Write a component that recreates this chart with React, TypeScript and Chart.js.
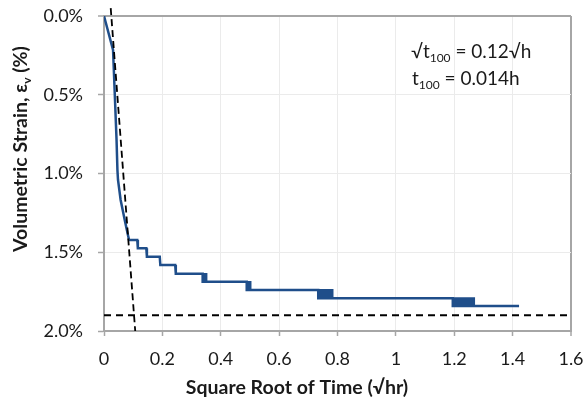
import React, { useEffect, useRef } from "react";
import { Chart, registerables } from "chart.js";

Chart.register(...registerables);

// [square root of time (√hr), volumetric strain (%)]
const STRAIN_POINTS: [number, number][] = [
  [0, 0], [0.031, 0.216], [0.037, 0.5], [0.043, 0.787], [0.046, 0.978], [0.048, 1.041],
  [0.057, 1.168], [0.071, 1.295], [0.082, 1.39], [0.086, 1.422],
  [0.114, 1.422], [0.116, 1.475], [0.145, 1.475], [0.147, 1.528], [0.191, 1.528], [0.193, 1.581],
  [0.244, 1.581], [0.246, 1.636],
  [0.338, 1.636], [0.338, 1.687], [0.341, 1.687], [0.341, 1.64], [0.344, 1.64], [0.344, 1.687],
  [0.347, 1.687], [0.347, 1.64], [0.35, 1.64], [0.35, 1.687],
  [0.489, 1.687], [0.489, 1.74], [0.492, 1.74], [0.492, 1.69], [0.495, 1.69], [0.495, 1.74],
  [0.498, 1.74], [0.498, 1.69], [0.501, 1.69], [0.501, 1.74],
  [0.734, 1.74], [0.734, 1.792], [0.738, 1.792], [0.738, 1.742], [0.742, 1.742], [0.742, 1.792],
  [0.746, 1.792], [0.746, 1.742], [0.75, 1.742], [0.75, 1.792], [0.754, 1.792], [0.754, 1.742],
  [0.758, 1.742], [0.758, 1.792], [0.762, 1.792], [0.762, 1.742], [0.766, 1.742], [0.766, 1.792],
  [0.77, 1.792], [0.77, 1.742], [0.774, 1.742], [0.774, 1.792], [0.778, 1.792], [0.778, 1.742],
  [0.782, 1.742], [0.782, 1.792],
  [1.195, 1.792], [1.195, 1.841], [1.199, 1.841], [1.199, 1.794], [1.203, 1.794], [1.203, 1.841],
  [1.207, 1.841], [1.207, 1.794], [1.211, 1.794], [1.211, 1.841], [1.215, 1.841], [1.215, 1.794],
  [1.219, 1.794], [1.219, 1.841], [1.223, 1.841], [1.223, 1.794], [1.227, 1.794], [1.227, 1.841],
  [1.231, 1.841], [1.231, 1.794], [1.235, 1.794], [1.235, 1.841], [1.239, 1.841], [1.239, 1.794],
  [1.243, 1.794], [1.243, 1.841], [1.247, 1.841], [1.247, 1.794], [1.251, 1.794], [1.251, 1.841],
  [1.255, 1.841], [1.255, 1.794], [1.259, 1.794], [1.259, 1.841], [1.263, 1.841], [1.263, 1.794],
  [1.267, 1.794], [1.267, 1.841],
  [1.422, 1.841],
];

const TANGENT_X = [0.023, 0.107];
const TANGENT_Y = [-0.05, 2.0];
const EOP_X = [0, 1.6];
const EOP_Y = [1.9, 1.9];

const X_TICK_LABELS = ["0", "0.2", "0.4", "0.6", "0.8", "1", "1.2", "1.4", "1.6"];
const Y_TICK_LABELS = ["0.0%", "0.5%", "1.0%", "1.5%", "2.0%"];

const X_TITLE = "Square Root of Time (√hr)";
const Y_TITLE_MAIN = "Volumetric Strain, ε";
const Y_TITLE_SUB = "v";
const Y_TITLE_END = " (%)";
const NOTE_1 = ["√t", "100", " = 0.12√h"];
const NOTE_2 = ["t", "100", " = 0.014h"];

const FONT = "Lato, 'Open Sans', sans-serif";
const AXIS_GRAY = "#a6a6a6";
const GRID = "#ebebeb";

function toPoints(xs: number[], ys: number[]) {
  return xs.map((x, i) => ({ x, y: ys[i] }));
}

const textPlugin = {
  id: "texts",
  afterDraw(chart: any) {
    const ctx = chart.ctx as CanvasRenderingContext2D;
    ctx.save();
    ctx.fillStyle = "#1a1a1a";
    ctx.textBaseline = "alphabetic";
    ctx.textAlign = "left";

    // x title
    ctx.font = `bold 19.5px ${FONT}`;
    const xw = ctx.measureText(X_TITLE).width;
    ctx.fillText(X_TITLE, 297 - xw / 2, 394);

    // y title rotated with subscript
    const big = `bold 19.5px ${FONT}`;
    const small = `bold 12px ${FONT}`;
    ctx.font = big;
    const w1 = ctx.measureText(Y_TITLE_MAIN).width;
    const w3 = ctx.measureText(Y_TITLE_END).width;
    ctx.font = small;
    const w2 = ctx.measureText(Y_TITLE_SUB).width;
    const total = w1 + w2 + w3;
    ctx.translate(27, 149);
    ctx.rotate(-Math.PI / 2);
    let px = -total / 2;
    ctx.font = big;
    ctx.fillText(Y_TITLE_MAIN, px, 0);
    px += w1;
    ctx.font = small;
    ctx.fillText(Y_TITLE_SUB, px, 4);
    px += w2;
    ctx.font = big;
    ctx.fillText(Y_TITLE_END, px, 0);
    ctx.setTransform(1, 0, 0, 1, 0, 0);

    // annotation
    const drawNote = (parts: string[], x: number, y: number) => {
      let cx = x;
      ctx.font = `19px ${FONT}`;
      ctx.fillText(parts[0], cx, y);
      cx += ctx.measureText(parts[0]).width;
      ctx.font = `12px ${FONT}`;
      ctx.fillText(parts[1], cx, y + 4);
      cx += ctx.measureText(parts[1]).width;
      ctx.font = `19px ${FONT}`;
      ctx.fillText(parts[2], cx, y);
    };
    drawNote(NOTE_1, 411, 58);
    drawNote(NOTE_2, 412, 85);
    ctx.restore();
  },
};

export default function App() {
  const ref = useRef<HTMLCanvasElement | null>(null);
  useEffect(() => {
    document.body.style.margin = "0";
    if (!ref.current) return;
    const chart = new Chart(ref.current, {
      type: "scatter",
      data: {
        datasets: [
          {
            data: toPoints(TANGENT_X, TANGENT_Y),
            showLine: true,
            borderColor: "#000",
            borderWidth: 1.8,
            borderDash: [7, 4],
            pointRadius: 0,
            clip: false as any,
          },
          {
            data: toPoints(EOP_X, EOP_Y),
            showLine: true,
            borderColor: "#000",
            borderWidth: 1.8,
            borderDash: [7, 5],
            pointRadius: 0,
          },
          {
            data: STRAIN_POINTS.map(([x, y]) => ({ x, y })),
            showLine: true,
            borderColor: "#1f4e8a",
            borderWidth: 2.5,
            borderJoinStyle: "miter",
            pointRadius: 0,
            tension: 0,
          },
        ],
      },
      options: {
        animation: false,
        responsive: false,
        maintainAspectRatio: false,
        layout: { padding: { left: 0, right: 16, top: 16, bottom: 0 } },
        plugins: { legend: { display: false }, tooltip: { enabled: false } },
        scales: {
          x: {
            type: "linear",
            min: 0,
            max: 1.6,
            ticks: {
              stepSize: 0.2,
              callback: (v: any) => X_TICK_LABELS[Math.round(Number(v) / 0.2)],
              font: { family: FONT, size: 18 },
              color: "#1a1a1a",
              padding: 12,
              maxRotation: 0,
            },
            grid: {
              color: (c: any) => (c.tick && c.tick.value > 1.59 ? AXIS_GRAY : GRID),
              lineWidth: (c: any) => (c.tick && c.tick.value > 1.59 ? 2 : 1),
              tickColor: AXIS_GRAY,
              tickLength: 5,
              tickWidth: 1.5,
            },
            border: { color: AXIS_GRAY, width: 2 },
            afterFit: (s: any) => {
              s.height = 69;
              s.paddingLeft = 0;
              s.paddingRight = 0;
            },
          },
          y: {
            type: "linear",
            reverse: true,
            min: 0,
            max: 2,
            ticks: {
              stepSize: 0.5,
              callback: (v: any) => Y_TICK_LABELS[Math.round(Number(v) / 0.5)],
              font: { family: FONT, size: 18 },
              color: "#1a1a1a",
              padding: 15,
            },
            grid: {
              color: (c: any) => (c.tick && c.tick.value < 0.01 ? AXIS_GRAY : GRID),
              lineWidth: (c: any) => (c.tick && c.tick.value < 0.01 ? 2 : 1),
              tickColor: AXIS_GRAY,
              tickLength: 6,
              tickWidth: 1.5,
            },
            border: { color: AXIS_GRAY, width: 2 },
            afterFit: (s: any) => {
              s.width = 104;
              s.paddingTop = 0;
              s.paddingBottom = 0;
            },
          },
        },
      } as any,
      plugins: [textPlugin],
    });
    return () => chart.destroy();
  }, []);
  return <canvas ref={ref} width={587} height={400} style={{ display: "block" }} />;
}
